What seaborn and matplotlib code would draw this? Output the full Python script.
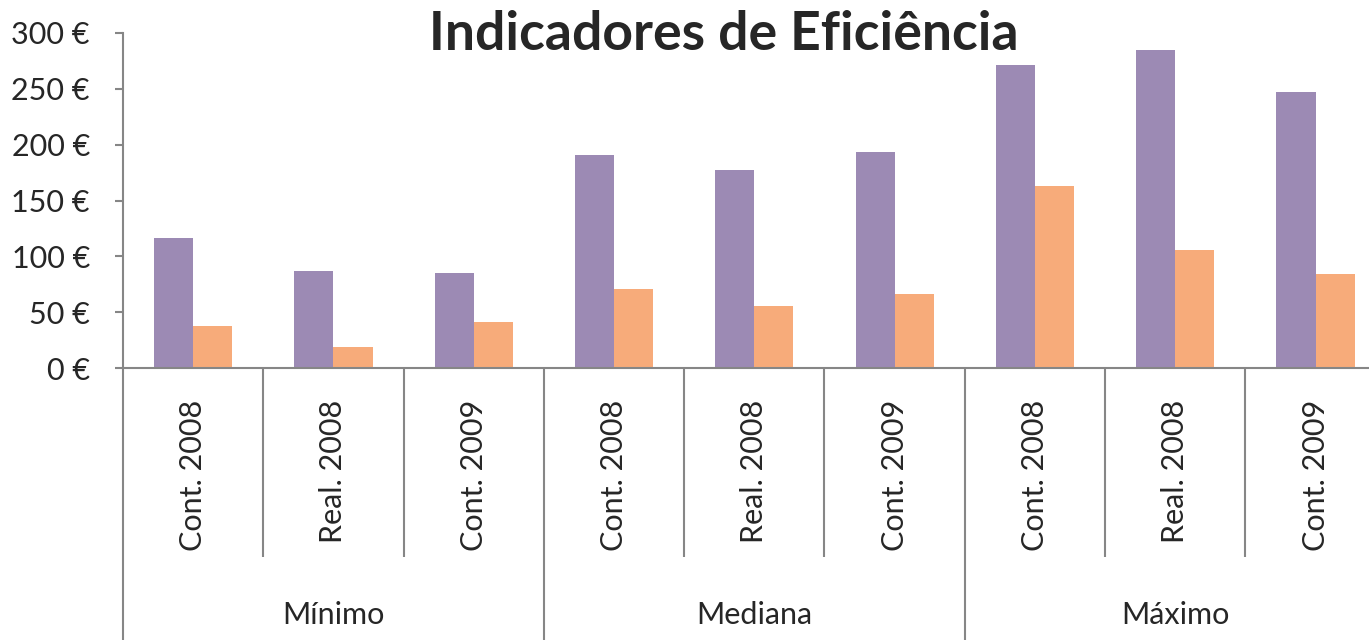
import numpy as np
import pandas as pd
import seaborn as sns
import matplotlib.pyplot as plt
import matplotlib.transforms as mtransforms


#%% Dados

Grupos   = ["Mínimo", "Mediana", "Máximo"]
Periodos = ["Cont. 2008", "Real. 2008", "Cont. 2009"]
Series   = ["Série 1", "Série 2"]

Serie_1 = [116.6, 86.7, 85.0, 190.8, 177.4, 193.6, 271.3, 284.8, 246.9]
Serie_2 = [38.0, 18.8, 41.0, 70.6, 55.4, 66.1, 163.0, 106.0, 84.2]

YTicks = [0, 50, 100, 150, 200, 250, 300]

Titulo = "Indicadores de Eficiência"


Posicoes = [g + " | " + p for g in Grupos for p in Periodos]

df = pd.concat([pd.DataFrame({"Posição": Posicoes, "Série": Series[0], "Valor": Serie_1}),
                pd.DataFrame({"Posição": Posicoes, "Série": Series[1], "Valor": Serie_2})],
               ignore_index=True)


#%% Estilo

Color_1 = "#9C8AB4"
Color_2 = "#F7AB7A"
Axis_Color = "#868686"
Axis_LineWidth = 1.5

FontName = ["Lato", "DejaVu Sans"]
FontSize_Tick = 22
FontSize_Title = 38.5

Fig_W, Fig_H, DPI = 13.69, 6.4, 100

sns.set_style("white")
plt.rcParams["font.family"] = FontName


#%% Figura

fig = plt.figure(figsize=[Fig_W, Fig_H], dpi=DPI)
ax = fig.add_axes([123 / 1369, 1 - 368 / 640, 1 - 123 / 1369, 335 / 640])

sns.barplot(data=df, x="Posição", y="Valor", hue="Série",
            order=Posicoes, hue_order=Series,
            palette=[Color_1, Color_2], saturation=1,
            width=78 / 140, linewidth=0, legend=False, ax=ax)

# Y axis
ax.set_ylim(0, 300)
ax.set_yticks(YTicks)
ax.set_yticklabels([f"{v} €" for v in YTicks], fontsize=FontSize_Tick)
ax.set_ylabel("")
ax.tick_params(axis="y", length=5.8, width=Axis_LineWidth, color=Axis_Color,
               pad=18, left=True)

# X axis
ax.set_xlim(-0.5, 8.381)
ax.set_xticks(range(len(Posicoes)))
ax.set_xticklabels(Periodos * len(Grupos), rotation=90, fontsize=FontSize_Tick,
                   va="top", ha="center")
ax.set_xlabel("")
ax.tick_params(axis="x", length=0, pad=23)

ax.spines[["right", "top"]].set_visible(False)
ax.spines[["left", "bottom"]].set_color(Axis_Color)
ax.spines[["left", "bottom"]].set_linewidth(Axis_LineWidth)

# divisórias do eixo de categorias
trans = mtransforms.blended_transform_factory(ax.transData, ax.transAxes)
n = len(Periodos)
for i in range(len(Posicoes) + 1):
    xb = i - 0.5
    y_end = -0.85 if i % n == 0 else -0.564
    ax.plot([xb, xb], [0, y_end], transform=trans, clip_on=False,
            color=Axis_Color, lw=Axis_LineWidth, solid_capstyle="butt")

for k, g in enumerate(Grupos):
    ax.text(k * n + (n - 1) / 2, -0.737, g, transform=trans,
            ha="center", va="center", fontsize=FontSize_Tick)

fig.text(723.5 / 1369, 1 - 50 / 640, Titulo, ha="center", va="baseline",
         fontsize=FontSize_Title, fontweight="bold")

fig.savefig("out.png", dpi=DPI)
